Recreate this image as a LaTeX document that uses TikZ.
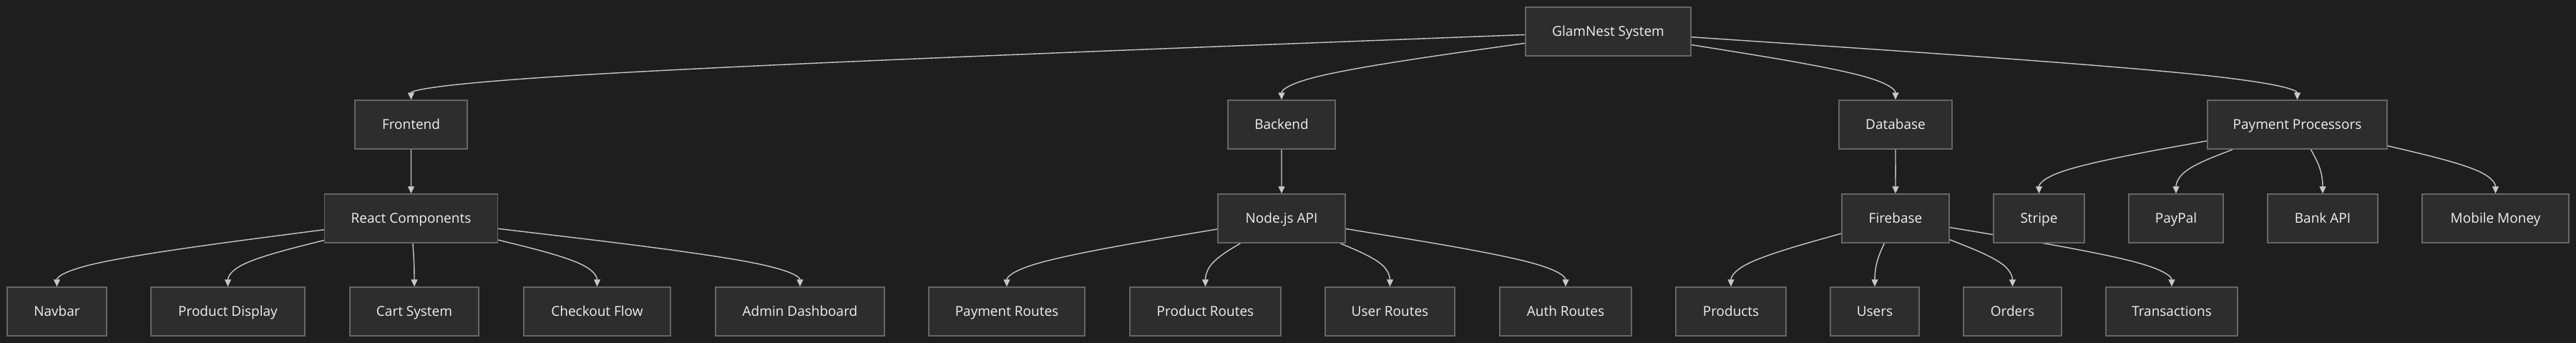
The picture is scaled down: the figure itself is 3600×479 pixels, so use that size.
\documentclass[tikz,border=0pt]{standalone}
\usepackage{fontspec}
\setmainfont{Open Sans}
\usetikzlibrary{calc,arrows.meta}
\definecolor{bgc}{HTML}{1E1E1E}
\definecolor{boxc}{HTML}{2D2D2D}
\definecolor{bordc}{HTML}{666666}
\definecolor{edgec}{HTML}{C8C8C8}
\definecolor{txtc}{HTML}{F0F0F0}
\pgfdeclarelayer{bglayer}
\pgfdeclarelayer{edgelayer}
\pgfsetlayers{bglayer,edgelayer,main}
\tikzset{
  box/.style={draw=bordc, fill=boxc, line width=1.5pt, minimum height=68pt, inner sep=0pt,
    text height=13.6pt, text depth=0pt,
    text=txtc, font=\fontsize{19}{23}\selectfont},
  edge/.style={draw=edgec, line width=1.4pt, -{Triangle[length=10pt,width=9pt]}},
}
\newcommand\medge[2]{%
  \coordinate (m) at ($(#2.north)+(0,-31)$);
  \coordinate (t) at (#2.north);
  \path (#1) -- coordinate[pos=0] (s) (m);
  \draw[edge] (s) -- ($(s)!1/6!(m)$)
    .. controls ($(s)!1/3!(m)$) and ($(s)!2/3!(m)$) .. ($0.166667*(s)+0.666667*(m)+0.166667*(t)$)
    .. controls ($(m)!1/3!(t)$) and ($(m)!2/3!(t)$) .. (t);
}
\begin{document}
\begin{tikzpicture}[x=1pt,y=-1pt]
\begin{pgfonlayer}{bglayer}
\fill[bgc] (0,0) rectangle (3600,479);
\end{pgfonlayer}
\useasboundingbox (0,0) rectangle (3600,479);
% rank 1
\node[box, minimum width=231pt] (glam) at (2247.5,44) {GlamNest System};
% rank 2
\node[box, minimum width=157pt] (front) at (574.5,174) {Frontend};
\node[box, minimum width=150pt] (back) at (1791,174) {Backend};
\node[box, minimum width=158pt] (db) at (2649,174) {Database};
\node[box, minimum width=251pt] (pay) at (3210.5,174) {Payment Processors};
% rank 3
\node[box, minimum width=242pt] (react) at (574.5,305) {React Components};
\node[box, minimum width=178pt] (node) at (1791,305) {Node.js API};
\node[box, minimum width=150pt] (fire) at (2649,305) {Firebase};
\node[box, minimum width=127pt] (stripe) at (2849.5,305) {Stripe};
\node[box, minimum width=132pt] (paypal) at (3041,305) {PayPal};
\node[box, minimum width=154pt] (bank) at (3246,305) {Bank API};
\node[box, minimum width=205pt] (mobile) at (3487.5,305) {Mobile Money};
% rank 4
\node[box, minimum width=139pt] (navbar) at (79.5,435) {Navbar};
\node[box, minimum width=215pt] (pdisp) at (318.5,435) {Product Display};
\node[box, minimum width=180pt] (cart) at (579,435) {Cart System};
\node[box, minimum width=205pt] (checkout) at (834.5,435) {Checkout Flow};
\node[box, minimum width=236pt] (admin) at (1118,435) {Admin Dashboard};
\node[box, minimum width=218pt] (payr) at (1407,435) {Payment Routes};
\node[box, minimum width=211pt] (prodr) at (1684.5,435) {Product Routes};
\node[box, minimum width=181pt] (userr) at (1942.5,435) {User Routes};
\node[box, minimum width=184pt] (authr) at (2188,435) {Auth Routes};
\node[box, minimum width=154pt] (products) at (2419,435) {Products};
\node[box, minimum width=124pt] (users) at (2620,435) {Users};
\node[box, minimum width=137pt] (orders) at (2812.5,435) {Orders};
\node[box, minimum width=184pt] (trans) at (3035,435) {Transactions};
\begin{pgfonlayer}{edgelayer}
\medge{glam}{front}
\medge{glam}{back}
\medge{glam}{db}
\medge{glam}{pay}
\medge{front}{react}
\medge{react}{navbar}
\medge{react}{pdisp}
\medge{react}{cart}
\medge{react}{checkout}
\medge{react}{admin}
\medge{back}{node}
\medge{node}{payr}
\medge{node}{prodr}
\medge{node}{userr}
\medge{node}{authr}
\medge{db}{fire}
\medge{fire}{products}
\medge{fire}{users}
\medge{fire}{orders}
\medge{fire}{trans}
\medge{pay}{stripe}
\medge{pay}{paypal}
\medge{pay}{bank}
\medge{pay}{mobile}
\end{pgfonlayer}
\end{tikzpicture}
\end{document}
